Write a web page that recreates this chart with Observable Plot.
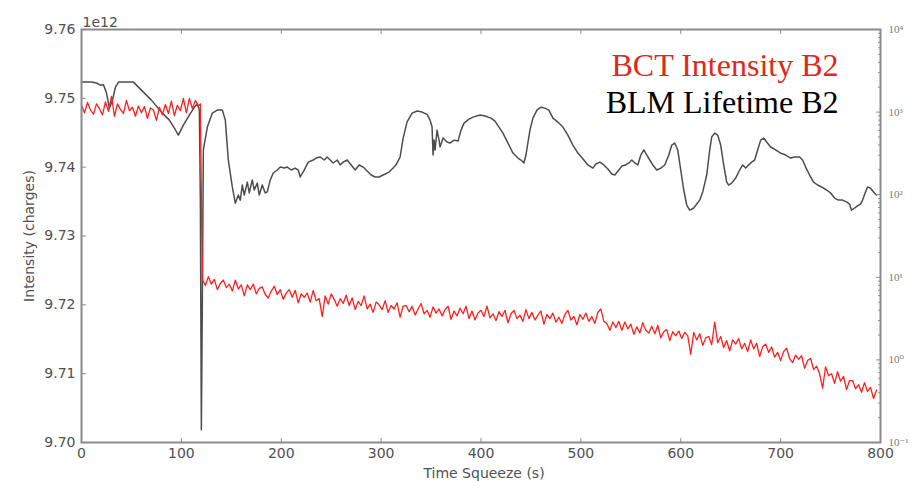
<!DOCTYPE html>
<html>
<head>
<meta charset="utf-8">
<script src="https://cdn.jsdelivr.net/npm/d3@7"></script>
<script src="https://cdn.jsdelivr.net/npm/@observablehq/plot@0.6"></script>
<style>
  html, body { margin: 0; padding: 0; background: #ffffff; }
  #chart { width: 916px; height: 481px; }
</style>
</head>
<body>
<div id="chart"></div>
<script>
// ---------- DATA ----------
// BCT intensity B2 (units of 1e12 charges) vs time in squeeze (s)
const bctTime = [
  0,3,6,9,12,15,18,21,24,27,
  30,33,36,39,42,45,48,51,54,57,
  60,63,66,69,72,75,78,81,84,87,
  90,93,96,99,102,105,108,111,114,117,
  119,
  121,124,127,130,133,136,139,142,145,148,
  151,154,157,160,163,166,169,172,175,178,
  181,184,187,190,193,196,199,202,205,208,
  211,214,217,220,223,226,229,232,235,238,
  241,244,247,250,253,256,259,262,265,268,
  271,274,277,280,283,286,289,292,295,298,
  301,304,307,310,313,316,319,322,325,328,
  331,334,337,340,343,346,349,352,355,358,
  361,364,367,370,373,376,379,382,385,388,
  391,394,397,400,403,406,409,412,415,418,
  421,424,427,430,433,436,439,442,445,448,
  451,454,457,460,463,466,469,472,475,478,
  481,484,487,490,493,496,499,502,505,508,
  511,514,517,520,523,526,529,532,535,538,
  541,544,547,550,553,556,559,562,565,568,
  571,574,577,580,583,586,589,592,595,598,
  601,604,607,610,613,616,619,622,625,628,
  631,634,637,640,643,646,649,652,655,658,
  661,664,667,670,673,676,679,682,685,688,
  691,694,697,700,703,706,709,712,715,718,
  721,724,727,730,733,736,739,742,745,748,
  751,754,757,760,763,766,769,772,775,778,
  781,784,787,790,793,796
];
const bctIntensity = [
  9.7490,9.7479,9.7494,9.7483,9.7477,9.7492,9.7485,9.7476,9.7495,9.7481,
  9.7503,9.7474,9.7492,9.7484,9.7478,9.7497,9.7482,9.7487,9.7474,9.7489,
  9.7479,9.7488,9.7471,9.7486,9.7483,9.7468,9.7487,9.7476,9.7491,9.7478,
  9.7496,9.7475,9.7490,9.7482,9.7500,9.7479,9.7500,9.7485,9.7497,9.7489,
  9.7492,
  9.7237,9.7228,9.7241,9.7230,9.7237,9.7222,9.7231,9.7236,9.7225,9.7230,
  9.7220,9.7236,9.7223,9.7229,9.7213,9.7229,9.7222,9.7230,9.7216,9.7224,
  9.7226,9.7215,9.7210,9.7220,9.7227,9.7215,9.7222,9.7208,9.7217,9.7222,
  9.7211,9.7221,9.7203,9.7216,9.7211,9.7217,9.7204,9.7221,9.7206,9.7209,
  9.7183,9.7213,9.7201,9.7216,9.7208,9.7198,9.7209,9.7202,9.7214,9.7199,
  9.7210,9.7193,9.7205,9.7199,9.7213,9.7194,9.7201,9.7189,9.7204,9.7200,
  9.7193,9.7206,9.7189,9.7199,9.7194,9.7203,9.7182,9.7198,9.7199,9.7190,
  9.7198,9.7185,9.7194,9.7202,9.7187,9.7192,9.7182,9.7197,9.7188,9.7194,
  9.7184,9.7193,9.7198,9.7179,9.7191,9.7184,9.7195,9.7187,9.7198,9.7180,
  9.7191,9.7178,9.7188,9.7192,9.7183,9.7198,9.7181,9.7187,9.7177,9.7190,
  9.7183,9.7192,9.7174,9.7187,9.7192,9.7180,9.7185,9.7176,9.7193,9.7180,
  9.7189,9.7178,9.7185,9.7191,9.7172,9.7186,9.7180,9.7188,9.7175,9.7182,
  9.7173,9.7186,9.7192,9.7178,9.7183,9.7171,9.7186,9.7179,9.7188,9.7176,
  9.7183,9.7173,9.7189,9.7194,9.7176,9.7173,9.7163,9.7175,9.7167,9.7176,
  9.7163,9.7175,9.7165,9.7172,9.7157,9.7168,9.7159,9.7174,9.7163,9.7159,
  9.7169,9.7158,9.7170,9.7152,9.7161,9.7164,9.7148,9.7161,9.7155,9.7162,
  9.7151,9.7160,9.7155,9.7128,9.7160,9.7149,9.7158,9.7141,9.7152,9.7154,
  9.7142,9.7175,9.7145,9.7154,9.7138,9.7148,9.7133,9.7149,9.7143,9.7151,
  9.7136,9.7144,9.7132,9.7149,9.7136,9.7144,9.7125,9.7139,9.7143,9.7131,
  9.7139,9.7124,9.7131,9.7119,9.7132,9.7137,9.7122,9.7116,9.7127,9.7121,
  9.7126,9.7108,9.7119,9.7122,9.7106,9.7111,9.7100,9.7079,9.7110,9.7097,
  9.7100,9.7086,9.7103,9.7089,9.7096,9.7077,9.7090,9.7090,9.7078,9.7084,
  9.7073,9.7087,9.7074,9.7080,9.7064,9.7076
];

// BLM lifetime B2 (s, log scale on right axis) vs time in squeeze (s)
const blmTime = [
  0,10,15,19,22,25,28,31,34,37,45,52,60,70,80,88,93,97,102,108,
  113,116,118,119,120,121,122,126,131,136,141,144,147,151,154,157,159,161,163,166,
  168,171,173,176,178,181,184,186,189,192,196,199,203,206,210,214,217,219,223,227,
  232,235,239,243,246,249,252,256,259,262,266,270,274,278,282,285,290,294,298,302,
  308,312,315,319,322,326,331,336,341,346,349,351,352,353,354,356,358,359,362,366,
  369,373,377,380,383,388,392,399,404,410,414,418,422,427,432,437,440,443,445,449,
  452,456,460,464,468,472,477,482,487,492,497,503,507,512,515,519,523,527,531,534,
  538,541,545,548,551,554,557,560,563,566,569,572,576,580,584,588,591,594,597,600,
  603,606,609,613,616,619,622,626,629,631,634,637,640,643,646,648,651,655,659,662,
  665,668,671,674,677,680,683,686,690,695,700,705,710,714,719,722,725,729,733,737,
  741,746,750,754,758,762,766,769,771,774,777,780,782,785,787,790,793,796
];
const blmLifetime = [
  2307,2307,2250,2118,2150,1700,1117,1400,2000,2307,2307,2307,1845,1397,1000,800,641,527,695,920,
  1148,1250,1058,86,0.143,5.3,348,659,973,1058,1058,800,263,124,79,99,86,131,99,142,
  105,151,114,138,99,131,105,108,151,183,199,216,210,216,199,210,199,164,199,248,
  263,278,286,263,286,263,242,263,229,248,263,229,199,229,216,199,173,164,164,173,
  188,210,230,286,480,760,973,1030,1000,940,800,659,302,458,348,605,458,378,485,434,
  422,458,446,605,736,823,869,920,895,846,778,659,557,422,319,278,263,242,302,605,
  846,1058,1148,1117,1058,846,757,659,527,399,319,263,229,210,235,248,229,205,178,173,
  199,222,229,242,263,242,229,302,348,302,263,229,199,210,229,302,399,422,348,199,
  114,75,65,69,77,86,108,173,348,499,557,527,399,229,142,131,138,159,199,229,
  210,229,248,263,348,458,485,434,378,348,319,302,278,286,286,263,216,173,142,131,
  124,114,105,91,86,86,82,77,65,69,73,77,86,108,124,120,108,99
];

// Axes / labels
const xTicks = [0, 100, 200, 300, 400, 500, 600, 700, 800];
const yTicks = [9.70, 9.71, 9.72, 9.73, 9.74, 9.75, 9.76];
const rightTicks = [0.1, 1, 10, 100, 1000, 10000];
const rightTickLabels = ["10\u207B\u00B9", "10\u2070", "10\u00B9", "10\u00B2", "10\u00B3", "10\u2074"];
const legendLabels = ["BCT Intensity B2", "BLM Lifetime B2"];
const xLabel = "Time Squeeze (s)";
const yLabel = "Intensity (charges)";
const offsetLabel = "1e12";

// ---------- CHART ----------
const Y0 = 9.70, Y1 = 9.76, LOG0 = -1, LOG1 = 4;
// map BLM lifetime (log scale) onto the left axis range for the twin axis
const toLeft = v => Y0 + (Math.log10(v) - LOG0) / (LOG1 - LOG0) * (Y1 - Y0);

const bct = bctTime.map((t, i) => ({t, v: bctIntensity[i]}));
const blm = blmTime.map((t, i) => ({t, v: toLeft(blmLifetime[i])}));

const rightMajorPos = rightTicks.map(toLeft);
const rightMinorPos = [];
for (let e = -1; e < 4; e++) for (let k = 2; k <= 9; k++) rightMinorPos.push(toLeft(k * Math.pow(10, e)));

const axisStroke = "#8a8a8a";
const textColor = "#505050";
const tickShape = { draw(context, l) { context.moveTo(0, 0); context.lineTo(0, -l); } };
const innerX = xTicks.slice(1, -1);

const chart = Plot.plot({
  width: 916,
  height: 481,
  marginLeft: 81,
  marginRight: 36,
  marginTop: 29,
  marginBottom: 39,
  style: { fontFamily: "DejaVu Sans, sans-serif", fontSize: "14px", background: "#ffffff", color: textColor },
  x: { domain: [0, 800] },
  y: { domain: [Y0, Y1] },
  marks: [
    // BLM lifetime (black) then BCT intensity (red)
    Plot.line(blm, { x: "t", y: "v", stroke: "#4d4d4d", strokeWidth: 1.5 }),
    Plot.line(bct, { x: "t", y: "v", stroke: "#ff1f1f", strokeWidth: 1.3 }),
    Plot.frame({ stroke: axisStroke, strokeWidth: 2 }),
    // inward ticks
    Plot.vector(innerX, { x: d => d, frameAnchor: "bottom", length: 4, rotate: 0, anchor: "start", shape: tickShape, stroke: axisStroke, strokeWidth: 1 }),
    Plot.vector(innerX, { x: d => d, frameAnchor: "top", length: 4, rotate: 180, anchor: "start", shape: tickShape, stroke: axisStroke, strokeWidth: 1 }),
    Plot.vector(yTicks.slice(1, -1), { y: d => d, frameAnchor: "left", length: 4, rotate: 90, anchor: "start", shape: tickShape, stroke: axisStroke, strokeWidth: 1 }),
    Plot.vector(rightMajorPos.slice(1, -1), { y: d => d, frameAnchor: "right", length: 4, rotate: -90, anchor: "start", shape: tickShape, stroke: axisStroke, strokeWidth: 1 }),
    Plot.vector(rightMinorPos, { y: d => d, frameAnchor: "right", length: 2, rotate: -90, anchor: "start", shape: tickShape, stroke: axisStroke, strokeWidth: 1 }),
    // axes text
    Plot.axisX(xTicks, { anchor: "bottom", tickSize: 0, tickPadding: 6, label: null, tickFormat: d => String(d), color: textColor }),
    Plot.axisY(yTicks, { anchor: "left", tickSize: 0, tickPadding: 6, label: null, tickFormat: d3.format(".2f"), color: textColor }),
    Plot.axisY(rightMajorPos, {
      anchor: "right", tickSize: 0, tickPadding: 8, label: null,
      tickFormat: d => rightTickLabels[rightMajorPos.findIndex(p => Math.abs(p - d) < 1e-9)],
      fontFamily: "Liberation Serif, DejaVu Serif, serif", fontSize: 11, color: "#7a7a7a"
    }),
    Plot.text([xLabel], { text: d => d, frameAnchor: "bottom", dx: 3, dy: 35, lineAnchor: "bottom", fill: textColor }),
    Plot.text([yLabel], { text: d => d, frameAnchor: "left", dx: -48, rotate: -90, lineAnchor: "bottom", textAnchor: "middle", fill: textColor }),
    Plot.text([offsetLabel], { text: d => d, frameAnchor: "top-left", dx: 1, dy: -3, lineAnchor: "bottom", textAnchor: "start", fill: textColor }),
    // legend
    Plot.text([legendLabels[0]], { text: d => d, frameAnchor: "top-right", dx: -42, dy: 46, lineAnchor: "bottom", textAnchor: "end", fontFamily: "Liberation Serif, Times New Roman, serif", fontSize: 32, fill: "#e0281c" }),
    Plot.text([legendLabels[1]], { text: d => d, frameAnchor: "top-right", dx: -42, dy: 83, lineAnchor: "bottom", textAnchor: "end", fontFamily: "Liberation Serif, Times New Roman, serif", fontSize: 32, fill: "#000000" })
  ]
});

document.getElementById("chart").appendChild(chart);
</script>
</body>
</html>
